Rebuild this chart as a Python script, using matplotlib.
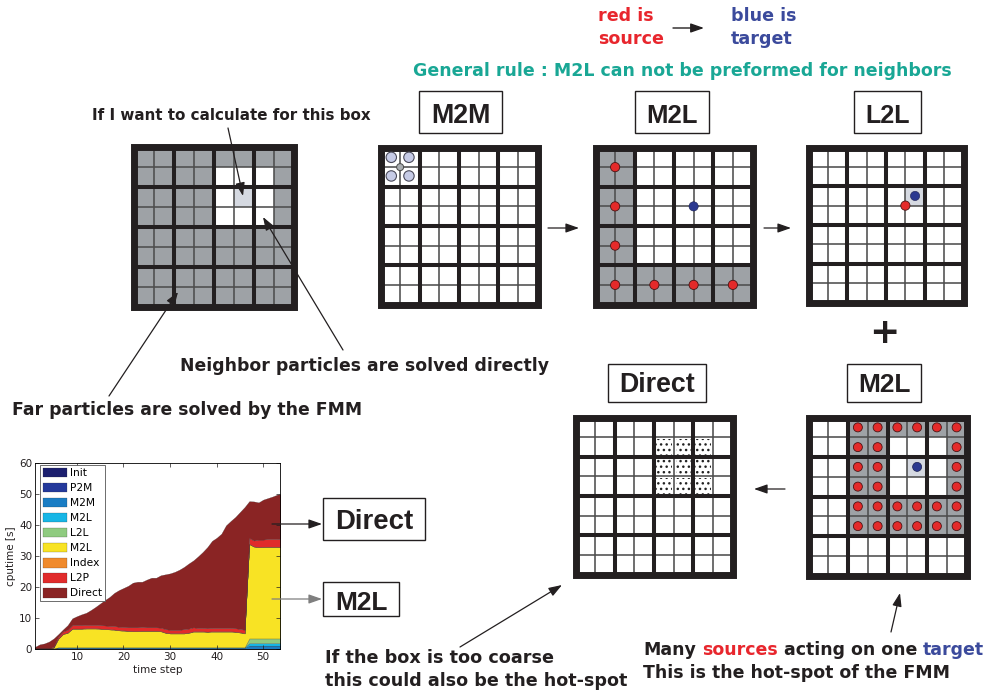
import matplotlib
matplotlib.use("Agg")
import matplotlib.pyplot as plt
from matplotlib.patches import Rectangle, Circle

# ---------------- data: stacked cputime chart ----------------
steps = list(range(1, 55))
layer_names = ["Init", "P2M", "M2M", "M2L", "L2L", "M2L", "Index", "L2P", "Direct"]
layer_colors = ["#1c1f6e", "#24399b", "#1a7dc4", "#17b6e6", "#8fcb80",
                "#f8e324", "#f08a2c", "#e12b2b", "#8a2424"]

init_t = [0.05, 0.05, 0.05, 0.05, 0.05, 0.05, 0.05, 0.05, 0.05, 0.05,
          0.05, 0.05, 0.05, 0.05, 0.05, 0.05, 0.05, 0.05, 0.05, 0.05,
          0.05, 0.05, 0.05, 0.05, 0.05, 0.05, 0.05, 0.05, 0.05, 0.05,
          0.05, 0.05, 0.05, 0.05, 0.05, 0.05, 0.05, 0.05, 0.05, 0.05,
          0.05, 0.05, 0.05, 0.05, 0.05, 0.05, 0.05, 0.05, 0.05, 0.05,
          0.05, 0.05, 0.05, 0.05]
p2m_t = [0.05, 0.05, 0.05, 0.05, 0.05, 0.05, 0.05, 0.05, 0.05, 0.05,
         0.05, 0.05, 0.05, 0.05, 0.05, 0.05, 0.05, 0.05, 0.05, 0.05,
         0.05, 0.05, 0.05, 0.05, 0.05, 0.05, 0.05, 0.05, 0.05, 0.05,
         0.05, 0.05, 0.05, 0.05, 0.05, 0.05, 0.05, 0.05, 0.05, 0.05,
         0.05, 0.05, 0.05, 0.05, 0.05, 0.05, 0.05, 0.05, 0.05, 0.05,
         0.05, 0.05, 0.05, 0.05]
m2m_t = [0.1, 0.1, 0.1, 0.1, 0.1, 0.3, 0.3, 0.3, 0.3, 0.3,
         0.3, 0.3, 0.3, 0.3, 0.3, 0.3, 0.3, 0.3, 0.3, 0.3,
         0.3, 0.3, 0.3, 0.3, 0.3, 0.3, 0.3, 0.3, 0.3, 0.3,
         0.3, 0.3, 0.3, 0.3, 0.3, 0.3, 0.3, 0.3, 0.3, 0.3,
         0.3, 0.3, 0.3, 0.3, 0.3, 0.3, 1.0, 1.0, 1.0, 1.0,
         1.0, 1.0, 1.0, 1.0]
m2l_far_t = [0.0, 0.0, 0.0, 0.0, 0.0, 0.1, 0.1, 0.1, 0.1, 0.1,
             0.1, 0.1, 0.1, 0.1, 0.1, 0.1, 0.1, 0.1, 0.1, 0.1,
             0.1, 0.1, 0.1, 0.1, 0.1, 0.1, 0.1, 0.1, 0.1, 0.1,
             0.1, 0.1, 0.1, 0.1, 0.1, 0.1, 0.1, 0.1, 0.1, 0.1,
             0.1, 0.1, 0.1, 0.1, 0.1, 0.1, 0.8, 0.8, 0.8, 0.8,
             0.8, 0.8, 0.8, 0.8]
l2l_t = [0.0, 0.0, 0.0, 0.0, 0.0, 0.05, 0.05, 0.05, 0.05, 0.05,
         0.05, 0.05, 0.05, 0.05, 0.05, 0.05, 0.05, 0.05, 0.05, 0.05,
         0.05, 0.05, 0.05, 0.05, 0.05, 0.05, 0.05, 0.05, 0.05, 0.05,
         0.05, 0.05, 0.05, 0.05, 0.05, 0.05, 0.05, 0.05, 0.05, 0.05,
         0.05, 0.05, 0.05, 0.05, 0.05, 0.05, 1.5, 1.5, 1.5, 1.5,
         1.5, 1.5, 1.5, 1.5]
m2l_t = [0.0, 0.0, 0.0, 0.0, 0.3, 2.75, 4.25, 4.65, 5.95, 5.95,
         5.95, 6.05, 6.05, 6.05, 5.95, 5.85, 5.75, 5.65, 5.45, 5.35,
         5.25, 5.15, 5.15, 5.25, 5.25, 5.25, 5.25, 5.15, 4.65, 4.45,
         4.45, 4.45, 4.45, 4.65, 5.05, 5.05, 5.05, 4.95, 5.05, 5.05,
         5.05, 5.05, 5.05, 4.95, 4.75, 4.45, 30.4, 29.6, 29.4, 29.5,
         29.5, 29.5, 29.5, 29.4]
index_t = [0.0, 0.0, 0.0, 0.0, 0.0, 0.1, 0.1, 0.1, 0.1, 0.1,
           0.1, 0.1, 0.1, 0.1, 0.1, 0.1, 0.1, 0.1, 0.1, 0.1,
           0.1, 0.1, 0.1, 0.1, 0.1, 0.1, 0.1, 0.1, 0.1, 0.1,
           0.1, 0.1, 0.1, 0.1, 0.1, 0.1, 0.1, 0.1, 0.1, 0.1,
           0.1, 0.1, 0.1, 0.1, 0.1, 0.1, 0.1, 0.1, 0.1, 0.1,
           0.1, 0.1, 0.1, 0.1]
l2p_t = [0.1, 0.1, 0.1, 0.1, 0.2, 0.6, 0.8, 0.9, 1.1, 1.1,
         1.1, 1.1, 1.1, 1.1, 1.1, 1.1, 1.1, 1.1, 1.1, 1.1,
         1.1, 1.2, 1.2, 1.2, 1.1, 1.1, 1.1, 1.1, 1.1, 1.1,
         1.1, 1.1, 1.3, 1.3, 1.3, 1.1, 1.1, 1.1, 1.1, 1.1,
         1.1, 1.1, 1.1, 1.1, 1.1, 1.1, 1.9, 1.9, 2.4, 2.3,
         2.5, 2.5, 2.5, 2.5]
direct_t = [0.4, 1.2, 1.5, 2.1, 2.7, 0.8, 0.6, 1.5, 2.2, 2.9,
            3.5, 3.9, 4.8, 5.8, 7.0, 8.2, 9.3, 10.7, 11.8, 12.6,
            13.4, 14.4, 14.7, 14.6, 15.4, 16.0, 16.0, 16.9, 17.7, 18.2,
            18.7, 19.4, 20.1, 21.0, 21.6, 23.1, 24.5, 26.2, 28.1, 29.1,
            30.4, 33.1, 34.5, 35.9, 37.7, 39.6, 11.9, 12.6, 12.0, 12.9,
            13.2, 13.7, 14.3, 14.6]
x_ticks = [10, 20, 30, 40, 50]
y_ticks = [0, 10, 20, 30, 40, 50, 60]

# ---------------- data: FMM grid diagrams (8x8 cells) ----------------
# '#' far (gray), '.' empty, 'o' target box (light), 'R' gray cell with source,
# 'B' light cell with target, ':' cell with particles
grid_far_near = ["########",
                 "####...#",
                 "####.o.#",
                 "####...#",
                 "########",
                 "########",
                 "########",
                 "########"]
grid_m2m = ["........"] * 8
grid_m2l_top = ["##......",
                "##......",
                "##......",
                "##......",
                "##......",
                "##......",
                "########",
                "########"]
grid_l2l = ["........",
            "........",
            ".....o..",
            "........",
            "........",
            "........",
            "........",
            "........"]
grid_direct = ["........",
               "....:::.",
               "....:::.",
               "....:::.",
               "........",
               "........",
               "........",
               "........"]
grid_m2l_bot = ["..RRRRRR",
                "..RR...R",
                "..RR.B.R",
                "..RR...R",
                "..RRRRRR",
                "..RRRRRR",
                "........",
                "........"]
# node-located markers, (x, y) in cell units from top-left corner
m2m_children = [(0.55, 0.5), (1.45, 0.5), (0.55, 1.45), (1.45, 1.45)]
m2m_parent = [(1.0, 1.0)]
m2l_top_sources = [(1, 1), (1, 3), (1, 5), (1, 7), (3, 7), (5, 7), (7, 7)]
m2l_top_target = [(5, 3)]
l2l_source = [(5, 3)]
l2l_target = [(5.5, 2.5)]

INK = "#231f20"
GRAY = "#9ea2a6"
LIGHT = "#d5d9e1"
RED = "#e8262d"
BLUE = "#3b4a9c"
TEAL = "#19a795"
DOT_RED = "#e42a2a"
DOT_BLUE = "#2b3990"
BODY_FONT = "DejaVu Sans"
BOX_FONT = "Liberation Sans"

fig = plt.figure(figsize=(9.87, 6.94), dpi=100)
fig.patch.set_facecolor("white")

# ---------------- stacked area chart ----------------
cax = fig.add_axes([35 / 987, (694 - 649) / 694, 245 / 987, 186 / 694], zorder=1)
layers = [init_t, p2m_t, m2m_t, m2l_far_t, l2l_t, m2l_t, index_t, l2p_t, direct_t]
polys = cax.stackplot(steps, *layers, colors=layer_colors, labels=layer_names,
                      edgecolor="#2a2a2a", linewidth=0.15)
cax.set_xlim(1, 53.6)
cax.set_ylim(0, 60)
cax.set_xticks(x_ticks)
cax.set_yticks(y_ticks)
cax.tick_params(direction="in", top=True, right=True, labelsize=7.5, length=3,
                width=0.5, pad=2, colors=INK)
for s in cax.spines.values():
    s.set_linewidth(0.6)
cax.set_xlabel("time step", fontsize=7.5, labelpad=2, color=INK)
cax.set_ylabel("cputime [s]", fontsize=7.5, labelpad=2, color=INK)
leg = cax.legend(loc="upper left", bbox_to_anchor=(5 / 245, 1 - 2 / 186),
                 borderaxespad=0, fontsize=7.7, frameon=True, fancybox=False,
                 framealpha=1, edgecolor="#555555", handlelength=2.3,
                 handleheight=1.0, labelspacing=0.43, handletextpad=0.3,
                 borderpad=0.25)
leg.get_frame().set_linewidth(0.6)

# ---------------- diagram canvas (pixel coordinates) ----------------
ax = fig.add_axes([0, 0, 1, 1], zorder=2)
ax.set_xlim(0, 987)
ax.set_ylim(694, 0)
ax.axis("off")
R = fig.canvas.get_renderer()


def draw_grid(x0, y0, size, mask, dot_r=4.4):
    c = size / 8.0
    for r, row in enumerate(mask):
        for k, ch in enumerate(row):
            fc = {"#": GRAY, "R": GRAY, ".": "white", ":": "white",
                  "o": LIGHT, "B": LIGHT}[ch]
            ax.add_patch(Rectangle((x0 + k * c, y0 + r * c), c, c,
                                   facecolor=fc, edgecolor="none", zorder=1))
            if ch == ":":
                ax.add_patch(Rectangle((x0 + k * c + 2, y0 + r * c + 2), c - 4, c - 4,
                                       facecolor="none", edgecolor="#222222",
                                       hatch="...", linewidth=0, zorder=1.5))
            if ch == "R":
                ax.add_patch(Circle((x0 + (k + 0.5) * c, y0 + (r + 0.5) * c), dot_r,
                                    facecolor=DOT_RED, edgecolor="#4a1515",
                                    linewidth=0.6, zorder=4))
            if ch == "B":
                ax.add_patch(Circle((x0 + (k + 0.5) * c, y0 + (r + 0.5) * c), dot_r,
                                    facecolor=DOT_BLUE, edgecolor="#1a1f50",
                                    linewidth=0.5, zorder=4))
    for i in (1, 3, 5, 7):
        ax.plot([x0 + i * c, x0 + i * c], [y0, y0 + size], color="#4d4d4d",
                lw=1.15, zorder=2, solid_capstyle="butt")
        ax.plot([x0, x0 + size], [y0 + i * c, y0 + i * c], color="#4d4d4d",
                lw=1.15, zorder=2, solid_capstyle="butt")
    for i in (2, 4, 6):
        ax.plot([x0 + i * c, x0 + i * c], [y0, y0 + size], color=INK,
                lw=2.9, zorder=2.5, solid_capstyle="butt")
        ax.plot([x0, x0 + size], [y0 + i * c, y0 + i * c], color=INK,
                lw=2.9, zorder=2.5, solid_capstyle="butt")
    ax.add_patch(Rectangle((x0, y0), size, size, facecolor="none", edgecolor=INK,
                           linewidth=5.0, joinstyle="miter", zorder=3))
    return c


def node_dots(x0, y0, c, pts, fc, ec, r, lw=0.6):
    for (px, py) in pts:
        ax.add_patch(Circle((x0 + px * c, y0 + py * c), r, facecolor=fc,
                            edgecolor=ec, linewidth=lw, zorder=4))


def width_at(s, fs, family=BODY_FONT):
    t = ax.text(0, 0, s, fontsize=fs, fontweight="bold", family=family)
    w = t.get_window_extent(renderer=R).width
    t.remove()
    return w


def ftext(x, y, s, width, ha="left", color=INK, va="baseline", family=BODY_FONT,
          fs=None):
    if fs is None:
        fs = 10 * width / width_at(s, 10, family)
    return ax.text(x, y, s, ha=ha, va=va, color=color, fontweight="bold",
                   fontsize=fs, family=family, zorder=6)


def multicolor(x, y, parts, width):
    full = " ".join(p for p, _ in parts)
    fs = 10 * width / width_at(full, 10)
    prefix = ""
    for s, col in parts:
        prefix = (prefix + " " + s) if prefix else s
        xs = x + (width_at(prefix, fs) - width_at(s, fs))
        ax.text(xs, y, s, ha="left", va="baseline", color=col,
                fontweight="bold", fontsize=fs, family=BODY_FONT, zorder=6)


def label_box(x0, y0, x1, y1, s, tw, baseline_off=10):
    ax.add_patch(Rectangle((x0, y0), x1 - x0, y1 - y0, facecolor="white",
                           edgecolor=INK, linewidth=1.0, zorder=3))
    ftext((x0 + x1) / 2, y1 - baseline_off, s, tw, ha="center", family=BOX_FONT)


def arrow(x1, y1, x2, y2, color=INK, lw=0.9):
    ax.annotate("", xy=(x2, y2), xytext=(x1, y1),
                arrowprops=dict(arrowstyle="-|>,head_length=1.0,head_width=0.35",
                                mutation_scale=8, color=color, lw=lw,
                                shrinkA=0, shrinkB=0), zorder=5)


# grids
draw_grid(133.5, 146.5, 160, grid_far_near)
c = draw_grid(380.5, 147.5, 157, grid_m2m)
node_dots(380.5, 147.5, c, m2m_children, "#c6cbe6", "#4a4a5a", 5.2, 0.8)
node_dots(380.5, 147.5, c, m2m_parent, "#a9adb0", "#4a4a4a", 3.5, 0.7)
c = draw_grid(595.5, 147.5, 157, grid_m2l_top)
node_dots(595.5, 147.5, c, m2l_top_sources, DOT_RED, "#4a1515", 4.6)
node_dots(595.5, 147.5, c, m2l_top_target, DOT_BLUE, "#1a1f50", 4.6, 0.4)
c = draw_grid(808.5, 147.5, 155, grid_l2l)
node_dots(808.5, 147.5, c, l2l_source, DOT_RED, "#4a1515", 4.6)
node_dots(808.5, 147.5, c, l2l_target, DOT_BLUE, "#1a1f50", 4.6, 0.4)
draw_grid(575.5, 417.5, 157, grid_direct)
draw_grid(808.5, 417.5, 158, grid_m2l_bot, dot_r=4.5)

# top legend text
fs_top = 10 * 66 / width_at("source", 10)
ftext(598, 21, "red is", 0, color=RED, fs=fs_top)
ftext(598, 44, "source", 0, color=RED, fs=fs_top)
ftext(731, 21, "blue is", 0, color=BLUE, fs=fs_top)
ftext(731, 44, "target", 0, color=BLUE, fs=fs_top)
arrow(673, 28, 704, 28, lw=1.0)
ftext(682, 76, "General rule : M2L can not be preformed for neighbors", 540,
      ha="center", color=TEAL)

# label boxes
label_box(419, 91, 502, 133, "M2M", 59)
label_box(635, 91, 709, 133, "M2L", 51)
label_box(854, 91, 921, 133, "L2L", 44)
label_box(608, 364, 706, 402, "Direct", 76)
label_box(847, 364, 921, 402, "M2L", 52)
label_box(323, 498, 425, 540, "Direct", 78, baseline_off=11)
label_box(323, 582, 399, 616, "M2L", 52, baseline_off=6)
ax.text(884, 333, "+", ha="center", va="center", fontsize=26,
        fontweight="bold", color=INK, zorder=6)

# annotation texts
ftext(92, 120, "If I want to calculate for this box", 280)
ftext(180, 371, "Neighbor particles are solved directly", 366)
ftext(12, 415, "Far particles are solved by the FMM", 348)
ftext(325, 663, "If the box is too coarse", 230)
ftext(325, 686, "this could also be the hot-spot", 302)
multicolor(643, 655, [("Many", INK), ("sources", RED), ("acting on one", INK),
                      ("target", BLUE)], 343)
ftext(643, 678, "This is the hot-spot of the FMM", 308)

# arrows
arrow(228, 128, 243, 196)
arrow(343, 350, 263, 217)
arrow(109, 396, 178, 292)
arrow(548, 228, 579, 228)
arrow(764, 228, 791, 228)
arrow(785, 489, 754, 489)
arrow(460, 647, 562, 585)
arrow(891, 632, 900, 593)
arrow(272, 524, 322, 524)
arrow(272, 599, 322, 599, color="#7f7f7f")

fig.savefig("out.png", dpi=100, facecolor="white")
